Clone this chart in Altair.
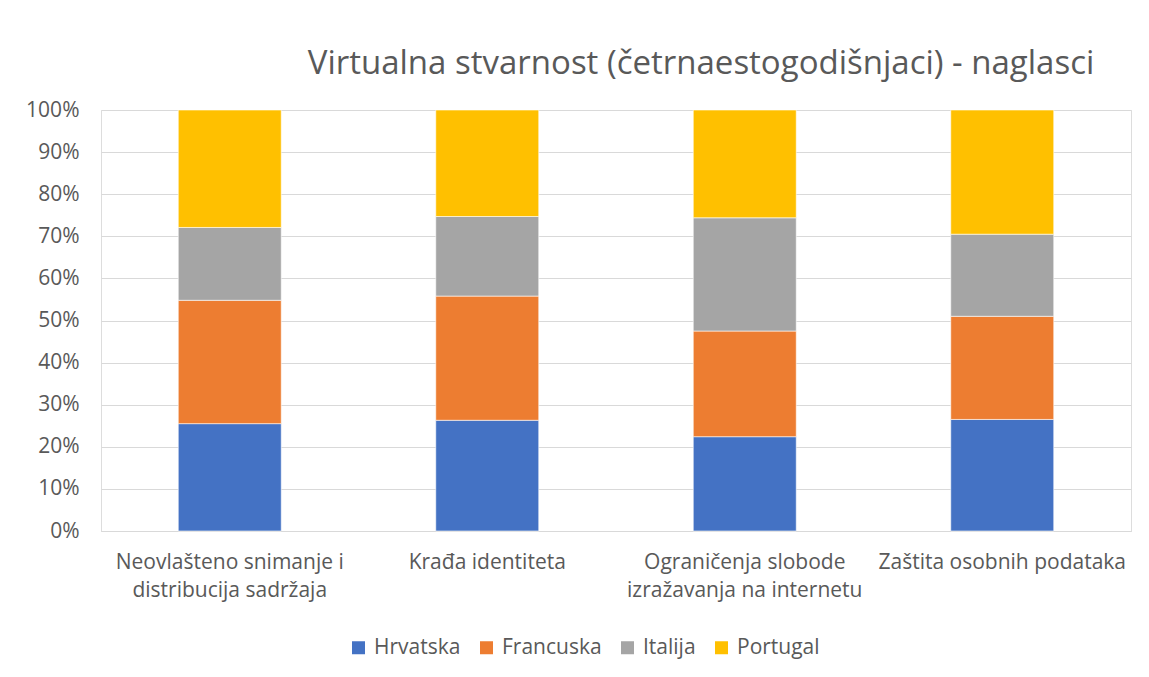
import altair as alt
import pandas as pd

categories = [
    "Neovlašteno snimanje i distribucija sadržaja",
    "Krađa identiteta",
    "Ograničenja slobode izražavanja na internetu",
    "Zaštita osobnih podataka",
]
label_lines = [
    ["Neovlašteno snimanje i", "distribucija sadržaja"],
    ["Krađa identiteta"],
    ["Ograničenja slobode", "izražavanja na internetu"],
    ["Zaštita osobnih podataka"],
]
series = ["Hrvatska", "Francuska", "Italija", "Portugal"]
colors = ["#4472C4", "#ED7D31", "#A5A5A5", "#FFC000"]

hrvatska = [25.5, 26.3, 22.4, 26.5]
francuska = [29.3, 29.5, 25.1, 24.5]
italija = [17.3, 18.9, 26.9, 19.5]
portugal = [27.9, 25.3, 25.6, 29.5]

rows = []
for i, c in enumerate(categories):
    for j, (s, vals) in enumerate(zip(series, [hrvatska, francuska, italija, portugal])):
        rows.append({"Kategorija": c, "Država": s, "Vrijednost": vals[i], "ord": j})
df = pd.DataFrame(rows)

label_expr = ""
for c, lines in zip(categories, label_lines):
    arr = "[" + ",".join("'" + l + "'" for l in lines) + "]"
    label_expr += f"datum.value == '{c}' ? {arr} : "
label_expr += "datum.value"

TEXT = "#595959"
FONT = "Open Sans"

chart = (
    alt.Chart(df)
    .mark_bar(stroke="white", strokeWidth=0.6)
    .encode(
        x=alt.X(
            "Kategorija:N",
            sort=categories,
            title=None,
            scale=alt.Scale(paddingInner=0.6, paddingOuter=0.3),
            axis=alt.Axis(
                labelAngle=0,
                labelExpr=label_expr,
                labelFontSize=21,
                labelColor=TEXT,
                labelFont=FONT,
                labelPadding=20,
                labelLineHeight=28,
                labelBaseline="top",
                ticks=False,
                domainColor="#D9D9D9",
                domainWidth=1,
                grid=False,
                labelLimit=300,
            ),
        ),
        y=alt.Y(
            "sum(Vrijednost):Q",
            stack="normalize",
            title=None,
            scale=alt.Scale(domain=[0, 1]),
            axis=alt.Axis(
                format=".0%",
                values=[i / 10 for i in range(11)],
                labelFontSize=21,
                labelColor=TEXT,
                labelFont=FONT,
                labelPadding=22,
                ticks=False,
                domain=False,
                gridColor="#D9D9D9",
                gridWidth=1,
            ),
        ),
        color=alt.Color(
            "Država:N",
            sort=series,
            scale=alt.Scale(domain=series, range=colors),
            legend=alt.Legend(
                title=None,
                orient="none",
                direction="horizontal",
                legendX=247,
                legendY=527,
                symbolType="square",
                symbolSize=169,
                symbolStrokeWidth=0,
                labelFontSize=21,
                labelColor=TEXT,
                labelFont=FONT,
                labelOffset=5,
                columnPadding=15,
            ),
        ),
        order=alt.Order("ord:Q", sort="ascending"),
    )
    .properties(
        width=1030,
        height=421,
        autosize=alt.AutoSizeParams(type="none"),
        padding={"left": 93, "top": 102, "right": 10, "bottom": 140},
        title=alt.TitleParams(
            "Virtualna stvarnost (četrnaestogodišnjaci) - naglasci",
            fontSize=33,
            font=FONT,
            fontWeight="normal",
            color=TEXT,
            anchor="middle",
            dx=85,
            offset=18,
        ),
    )
    .configure_view(stroke=None)
    .configure(background="white")
)

chart.save("out.html", embed_options={"renderer": "svg", "actions": False})
